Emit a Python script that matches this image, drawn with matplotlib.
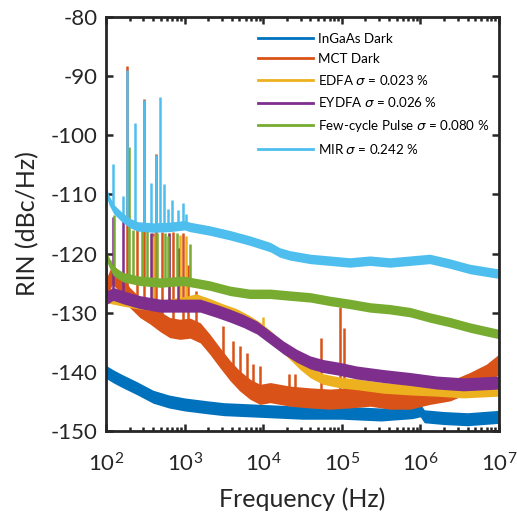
import numpy as np
import matplotlib
matplotlib.use("Agg")
import matplotlib.pyplot as plt
from matplotlib.ticker import LogLocator, FixedLocator

plt.rcParams['font.family'] = ['Lato', 'DejaVu Sans']
plt.rcParams['axes.unicode_minus'] = False
plt.rcParams['mathtext.fontset'] = 'custom'
plt.rcParams['mathtext.rm'] = 'Lato'
plt.rcParams['mathtext.it'] = 'DejaVu Sans:italic'

# log10(frequency) sample points and RIN (dBc/Hz)
ingaas_lf = [2.0, 2.1, 2.2, 2.4, 2.6, 2.8, 3.0, 3.3, 3.5, 4.0, 4.5, 5.0, 5.5, 5.9, 6.0, 6.05, 6.3, 6.6, 6.8, 7.0]
ingaas_db = [-140.0, -140.8, -141.5, -142.8, -144.2, -145.0, -145.5, -146.0, -146.3, -146.6,
             -146.9, -146.9, -147.2, -146.8, -146.5, -147.5, -147.8, -148.0, -147.8, -147.6]

mct_lf = [2.0, 2.08, 2.2, 2.3, 2.43, 2.56, 2.69, 2.81, 2.94, 3.07, 3.2, 3.32, 3.45, 3.58, 3.7,
          3.83, 3.96, 4.09, 4.34, 4.6, 4.85, 5.1, 5.36, 5.61, 5.87, 6.12, 6.38, 6.63, 6.84, 7.0]
mct_db = [-126.0, -123.5, -125.0, -127.4, -129.1, -130.2, -131.5, -132.5, -132.8, -132.6, -133.4,
          -135.3, -137.6, -139.8, -141.5, -142.9, -143.8, -143.5, -144.1, -144.4, -144.6, -144.4,
          -144.1, -144.6, -144.6, -143.8, -143.2, -141.8, -140.4, -138.7]

edfa_lf = [2.0, 2.22, 2.43, 2.69, 2.98, 3.15, 3.32, 3.49, 3.66, 3.83, 3.96, 4.09, 4.21, 4.34,
           4.47, 4.6, 4.76, 4.98, 5.19, 5.53, 5.87, 6.21, 6.55, 7.0]
edfa_db = [-127.4, -128.0, -128.5, -128.8, -128.2, -127.7, -128.5, -129.4, -130.2, -131.4, -132.5,
           -133.9, -135.3, -137.0, -138.7, -140.1, -141.2, -141.8, -142.1, -142.7, -143.0, -143.2,
           -143.5, -143.2]

eydfa_lf = [2.0, 2.02, 2.09, 2.22, 2.43, 2.69, 2.98, 3.2, 3.41, 3.58, 3.75, 3.92, 4.09, 4.26, 4.43,
            4.6, 4.76, 4.98, 5.19, 5.53, 5.87, 6.21, 6.55, 7.0]
eydfa_db = [-120.6, -127.4, -126.8, -127.4, -128.2, -128.8, -128.8, -128.8, -129.7, -130.5, -131.4,
            -132.5, -134.2, -135.9, -137.3, -138.4, -139.0, -139.5, -140.1, -140.7, -141.2, -141.8,
            -142.1, -141.8]

fcp_lf = [2.0, 2.09, 2.22, 2.43, 2.69, 2.98, 3.11, 3.32, 3.58, 3.83, 4.09, 4.34, 4.6, 4.85, 5.1,
          5.36, 5.61, 5.87, 6.12, 6.38, 6.63, 7.0]
fcp_db = [-120.3, -122.9, -124.0, -124.6, -124.9, -124.6, -124.9, -125.4, -126.3, -126.8, -126.8,
          -127.1, -127.4, -128.0, -128.5, -129.1, -129.4, -129.9, -130.8, -131.6, -132.5, -133.6]

mir_lf = [2.0, 2.04, 2.1, 2.2, 2.3, 2.4, 2.6, 2.8, 3.0, 3.07, 3.32, 3.58, 3.83, 4.09, 4.21, 4.34,
          4.6, 4.85, 5.1, 5.36, 5.61, 5.87, 6.12, 6.38, 6.63, 7.0]
mir_db = [-109.4, -111.0, -112.5, -113.8, -114.8, -115.4, -115.6, -115.5, -115.2, -115.5, -116.1,
          -116.9, -117.8, -118.9, -119.8, -120.3, -120.9, -121.2, -121.5, -121.2, -121.5, -121.2,
          -120.9, -121.7, -122.6, -123.4]

# noise half-width of each trace (dB)
spread = [1.1, 1.7, 0.9, 1.1, 0.8, 0.8]

# spurs: log10(frequency) and peak level
ingaas_sp_lf, ingaas_sp_db = [], []
mct_sp_lf = [2.263, 2.39, 2.487, 2.602, 2.636, 2.708, 2.857, 2.976, 3.04, 3.15, 3.49, 3.62,
             3.70, 3.79, 3.87, 3.96, 4.33, 4.41, 4.74, 4.98, 5.03]
mct_sp_db = [-88.3, -116.0, -93.9, -116.5, -103.1, -116.3, -116.4, -116.5, -122.0, -126.3, -132.2,
             -134.7, -135.6, -136.8, -138.6, -139.0, -140.3, -140.3, -134.2, -129.1, -132.5]
edfa_sp_lf = [2.602, 2.80, 2.941, 3.018, 4.0]
edfa_sp_db = [-117.0, -116.5, -116.8, -117.0, -130.8]
eydfa_sp_lf = [2.085, 2.22, 2.573, 2.80, 2.92]
eydfa_sp_db = [-113.8, -114.0, -116.6, -116.5, -119.0]
fcp_sp_lf = [2.05, 2.10, 2.297, 2.347, 2.454, 2.517, 2.645, 2.751, 2.793, 2.907, 3.069]
fcp_sp_db = [-121.0, -113.5, -101.9, -116.0, -116.0, -115.5, -116.5, -116.5, -117.0, -116.5, -118.3]
mir_sp_lf = [2.085, 2.22, 2.263, 2.369, 2.487, 2.569, 2.636, 2.687, 2.738, 2.793, 2.836, 2.92,
             2.976, 3.018]
mir_sp_db = [-104.8, -110.3, -88.9, -97.9, -94.0, -108.1, -103.4, -93.6, -108.3, -112.4, -110.9,
             -112.6, -111.5, -113.3]

labels = ['InGaAs Dark', 'MCT Dark', r'EDFA $\sigma$ = 0.023 %', r'EYDFA $\sigma$ = 0.026 %',
          r'Few-cycle Pulse $\sigma$ = 0.080 %', r'MIR $\sigma$ = 0.242 %']
colors = ['#0072BD', '#D95319', '#EDB120', '#7E2F8E', '#77AC30', '#4DBEEE']

series = [
    (ingaas_lf, ingaas_db, ingaas_sp_lf, ingaas_sp_db),
    (mct_lf, mct_db, mct_sp_lf, mct_sp_db),
    (edfa_lf, edfa_db, edfa_sp_lf, edfa_sp_db),
    (eydfa_lf, eydfa_db, eydfa_sp_lf, eydfa_sp_db),
    (fcp_lf, fcp_db, fcp_sp_lf, fcp_sp_db),
    (mir_lf, mir_db, mir_sp_lf, mir_sp_db),
]

fig = plt.figure(figsize=(5.17, 5.15), dpi=100)
ax = fig.add_axes([0.205, 0.163, 0.760, 0.804])

for i, (lf, db, slf, sdb) in enumerate(series):
    lf = np.array(lf)
    db = np.array(db)
    f = 10 ** lf
    z = 2 + i
    ax.fill_between(f, db - spread[i], db + spread[i], color=colors[i], lw=0, zorder=z)
    ax.plot(f, db, color=colors[i], lw=1.2, label=labels[i], zorder=z)
    if slf:
        base = np.interp(slf, lf, db)
        ax.vlines(10 ** np.array(slf), base, sdb, color=colors[i], lw=1.8, zorder=z)

ax.set_xscale('log')
ax.set_xlim(1e2, 1e7)
ax.set_ylim(-150, -80)
ax.yaxis.set_major_locator(FixedLocator(np.arange(-150, -79, 10)))
ax.xaxis.set_major_locator(LogLocator(base=10, numticks=12))
ax.xaxis.set_minor_locator(LogLocator(base=10, subs=np.arange(2, 10), numticks=12))

for s in ax.spines.values():
    s.set_linewidth(2.0)
    s.set_color('#262626')
    s.set_zorder(20)
ax.tick_params(which='both', direction='in', top=True, right=True, colors='#262626',
               labelcolor='#262626', labelsize=16, width=1.8)
ax.tick_params(which='major', length=5)
ax.tick_params(which='minor', length=3)
ax.tick_params(axis='y', pad=6)
ax.tick_params(axis='x', pad=15)

ax.set_xlabel('Frequency (Hz)', fontsize=18, color='#262626', labelpad=9)
ax.set_ylabel('RIN (dBc/Hz)', fontsize=18, color='#262626', labelpad=8)

leg = ax.legend(loc='upper right', frameon=False, fontsize=9.6, handlelength=4.1,
                handletextpad=0.4, labelspacing=0.62, borderaxespad=0.3,
                bbox_to_anchor=(1.0, 0.985))
for h in leg.get_lines():
    h.set_linewidth(2.0)

fig.savefig('out.png', dpi=100)
